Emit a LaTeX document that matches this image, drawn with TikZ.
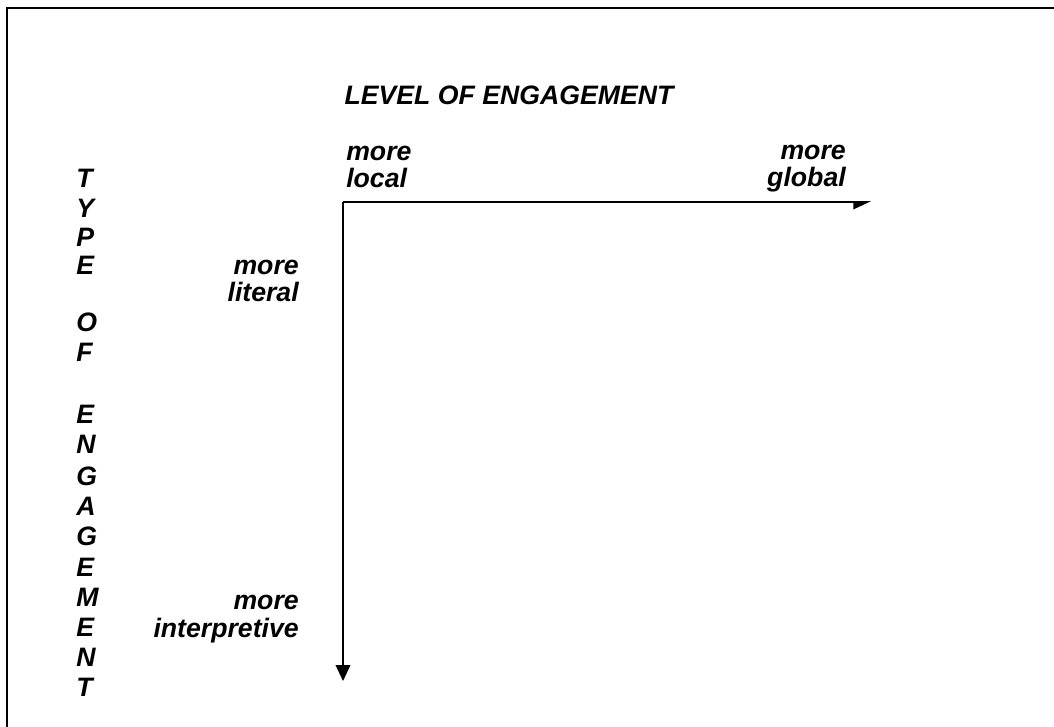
\documentclass[tikz,border=0pt]{standalone}
\usepackage{fontspec}
\setmainfont{Liberation Sans}
\usetikzlibrary{arrows.meta}

\begin{document}
\begin{tikzpicture}[x = 0.75pt, y = -0.75pt,
    every node/.style = { inner sep = 0, font = \fontsize{20}{20.5}\selectfont\bfseries\itshape },
    axis/.style = { line width = 1.2pt, -{Triangle[length = 12pt, width = 11pt]} }]
  \useasboundingbox (0,0) rectangle (1054,727);
  \draw[line width = 1.8pt] (1054,8) -- (7,8) -- (7,727);

  \coordinate (origin) at (343,202);
  \coordinate (globalend) at (871,202);
  \coordinate (interpend) at (343,681);
  \draw[line width = 1.2pt, -{Triangle[length = 12pt, width = 11pt, right]}] (origin) -- (globalend);
  \draw[axis] (origin) -- (interpend);

  \node[anchor = base] (level) at (509,105) {LEVEL OF ENGAGEMENT};
  \node[anchor = base west, align = left] (local) at (346,188) {more\\local};
  \node[anchor = base east, align = right] (global) at (846,187) {more\\global};
  \node[anchor = base east, align = right] (literal) at (299,302) {more\\literal};
  \node[anchor = base east, align = right] (interp) at (299,637) {more\\interpretive};

  \foreach \ch/\yy [count = \i] in {T/188, Y/218, P/247, E/275, O/332, F/362,
      E/424, N/454, G/485, A/515, G/545, E/576, M/606, E/636, N/666, T/696}
    \node[anchor = base west] (type\i) at (76,\yy) {\ch};
\end{tikzpicture}
\end{document}
